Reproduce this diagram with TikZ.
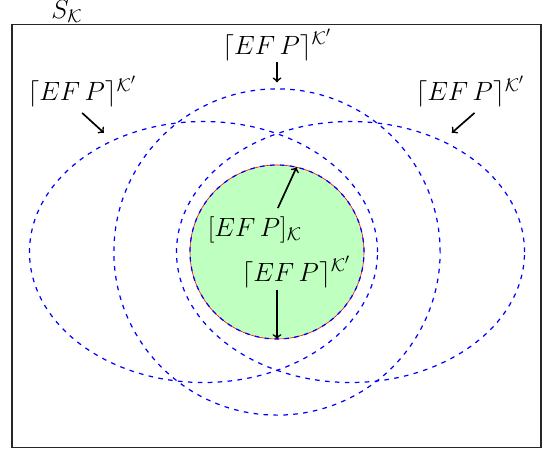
\documentclass[tikz,border=0pt]{standalone}
\usepackage{amsmath,amssymb}
\usepackage{xcolor}
\usetikzlibrary{calc,positioning}
\newcommand{\Kc}{\mathcal{K}}
\newcommand{\cl}{\lceil EF\,P\rceil^{\Kc'}}

\begin{document}
\begin{tikzpicture}[
    set/.style={blue, thick, dash pattern=on 3pt off 3.5pt},
    lbl/.style={font=\LARGE, inner sep=1pt},
    pointer/.style={->, line width=1.1pt, black}
  ]
  \useasboundingbox (-6.368,-4.575) rectangle (6.184,5.793);
  % Frame
  \draw[line width=0.7pt, black!85] (-6.092,-4.49) rectangle (6.069,5.22);
  \node[lbl] (space) at (-4.83,5.52) {$S_{\Kc}$};

  % Core set
  \fill[green!25] (0,0) circle (2);
  \draw[red] (0,0) circle (2);
  \draw[set] (0,0) circle (2);

  % Closures
  \draw[set] (0,0) circle (3.75);
  \draw[set] (-1.69,0) ellipse (4 and 3);
  \draw[set] (1.69,0) ellipse (4 and 3);

  % Labels and pointers
  \node[lbl] (topK) at (0,4.76) {$\cl$};
  \coordinate (topTip) at (0,3.9);
  \draw[pointer] (topK) -- (topTip);

  \node[lbl] (leftK) at (-4.48,3.68) {$\cl$};
  \coordinate (leftTip) at (-3.98,2.74);
  \draw[pointer] (leftK.south) ++(0,-0.08) -- (leftTip);

  \node[lbl] (rightK) at (4.44,3.68) {$\cl$};
  \coordinate (rightTip) at (4.02,2.74);
  \draw[pointer] ($(rightK.south)+(0.1,-0.08)$) -- (rightTip);

  \node[lbl] (coreK) at (-0.51,0.51) {$[EF\,P]_{\Kc}$};
  \coordinate (coreFoot) at (0.02,1.01);
  \coordinate (coreTip) at (77:2);
  \draw[pointer] (coreFoot) -- (coreTip);

  \node[lbl] (innerK) at (0.44,-0.46) {$\cl$};
  \coordinate (innerTip) at (0,-2);
  \draw[pointer] (innerK.south -| innerTip) -- (innerTip);
\end{tikzpicture}
\end{document}
